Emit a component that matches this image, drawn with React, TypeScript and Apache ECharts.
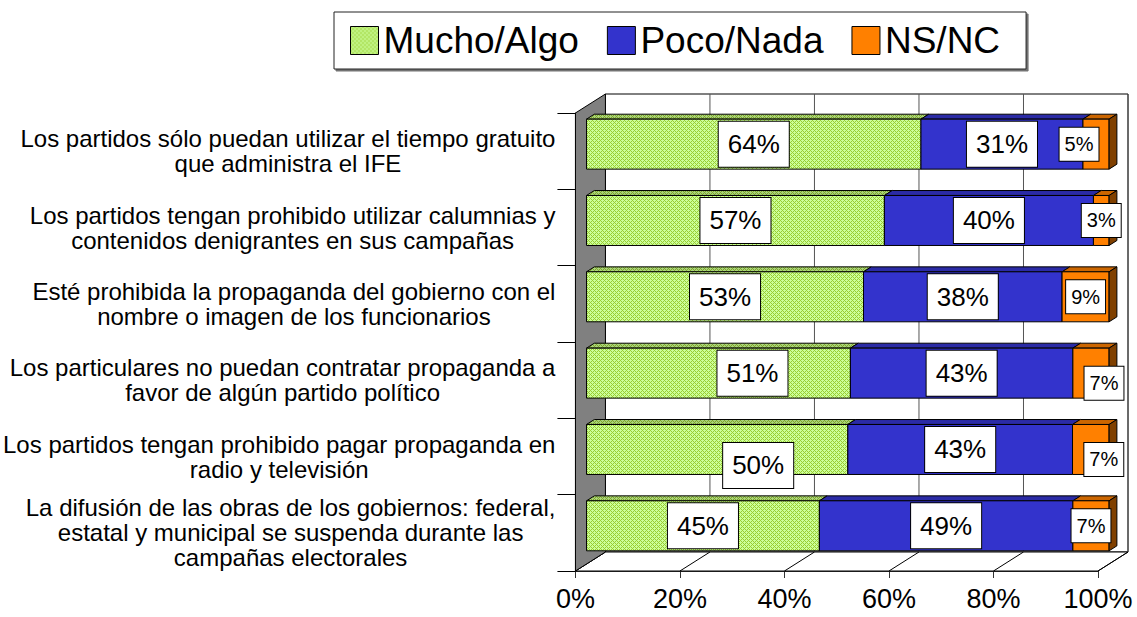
import React, { useEffect, useRef } from 'react';
import * as echarts from 'echarts';

// ---------- data ----------
const CATEGORIES = [
  'Los partidos sólo puedan utilizar el tiempo gratuito\nque administra el IFE',
  'Los partidos tengan prohibido utilizar calumnias y\ncontenidos denigrantes en sus campañas',
  'Esté prohibida la propaganda del gobierno con el\nnombre o imagen de los funcionarios',
  'Los particulares no puedan contratar propaganda a\nfavor de algún partido político',
  'Los partidos tengan prohibido pagar propaganda en\nradio y televisión',
  'La difusión de las obras de los gobiernos: federal,\nestatal y municipal se suspenda durante las\ncampañas electorales',
];
const SERIES_NAMES = ['Mucho/Algo', 'Poco/Nada', 'NS/NC'];
const MUCHO_ALGO = [64, 57, 53, 51, 50, 45];
const POCO_NADA = [31, 40, 38, 43, 43, 49];
const NS_NC = [5, 3, 9, 7, 7, 7];
const X_TICKS = [0, 20, 40, 60, 80, 100];

// ---------- styling ----------
const FONT = '"Liberation Sans", Arial, Helvetica, sans-serif';
const DEPTH: [number, number] = [30, -19]; // 3D depth offset of the walls
const BAR_FRONT = 0.37; // bar front face position along the depth
const BAR_BACK = 0.63; // bar back face position along the depth
const BAR_RATIO = 0.655; // bar thickness / band
// manual label nudges, as in the original (key: category-series)
const LABEL_NUDGE: Record<string, [number, number]> = {
  '0-2': [-17, 0],
  '3-0': [34, 0],
  '3-2': [13, 10],
  '4-0': [41, 16],
  '4-2': [13, 10],
};

function makePattern(dark: string, light: string): any {
  const c = document.createElement('canvas');
  c.width = 4;
  c.height = 4;
  const ctx = c.getContext('2d');
  if (!ctx) return light;
  ctx.fillStyle = light;
  ctx.fillRect(0, 0, 4, 4);
  ctx.fillStyle = dark;
  for (let x = 0; x < 4; x++) {
    for (let y = 0; y < 4; y++) {
      if ((x + y) % 4 === 0 || (x - y + 4) % 4 === 0) ctx.fillRect(x, y, 1, 1);
    }
  }
  return { image: c.toDataURL(), repeat: 'repeat', imageWidth: 4, imageHeight: 4 };
}

function buildOption() {
  const greenFront = makePattern('#99CC33', '#CCFF99');
  const greenTop = makePattern('#7FA52B', '#A9D47A');
  const faces = [
    { front: greenFront, top: greenTop, side: '#6E9A2E' },
    { front: '#3333CC', top: '#2B2BA6', side: '#1E1E80' },
    { front: '#FF8000', top: '#CC6600', side: '#804000' },
  ];
  const values = [MUCHO_ALGO, POCO_NADA, NS_NC];

  // 100%-stacked segments: [start, end, category, label value]
  const seriesData = values.map((arr, s) =>
    arr.map((v, i) => {
      const total = MUCHO_ALGO[i] + POCO_NADA[i] + NS_NC[i];
      let before = 0;
      for (let k = 0; k < s; k++) before += values[k][i];
      return [(before / total) * 100, ((before + v) / total) * 100, i, v];
    })
  );

  const renderFrame = (params: any, api: any) => {
    const cs = params.coordSys;
    const x0 = cs.x, y0 = cs.y, x1 = cs.x + cs.width, y1 = cs.y + cs.height;
    const [dx, dy] = DEPTH;
    const children: any[] = [];
    children.push({
      type: 'rect',
      shape: { x: x0 + dx, y: y0 + dy, width: x1 - x0, height: y1 - y0 },
      style: { fill: '#fff', stroke: '#000', lineWidth: 1 },
    });
    children.push({
      type: 'polygon',
      shape: { points: [[x0, y1], [x0 + dx, y1 + dy], [x1 + dx, y1 + dy], [x1, y1]] },
      style: { fill: '#fff', stroke: '#000', lineWidth: 1 },
    });
    X_TICKS.forEach((t) => {
      const x = api.coord([t, 0])[0];
      children.push({
        type: 'line',
        shape: { x1: x + dx, y1: y0 + dy, x2: x + dx, y2: y1 + dy },
        style: { stroke: '#555', lineWidth: 1 },
      });
      children.push({
        type: 'line',
        shape: { x1: x, y1: y1, x2: x + dx, y2: y1 + dy },
        style: { stroke: '#000', lineWidth: 1 },
      });
    });
    children.push({
      type: 'polygon',
      shape: { points: [[x0, y0], [x0 + dx, y0 + dy], [x0 + dx, y1 + dy], [x0, y1]] },
      style: { fill: '#808080', stroke: '#000', lineWidth: 1 },
    });
    return { type: 'group', children };
  };

  const makeBarRender = (sIdx: number) => (params: any, api: any) => {
    const s = api.value(0), e = api.value(1), c = api.value(2), v = api.value(3);
    const p0 = api.coord([s, c]);
    const p1 = api.coord([e, c]);
    const band = api.size([0, 1])[1];
    const h = band * BAR_RATIO;
    const fx = DEPTH[0] * BAR_FRONT, fy = DEPTH[1] * BAR_FRONT;
    const ddx = DEPTH[0] * (BAR_BACK - BAR_FRONT), ddy = DEPTH[1] * (BAR_BACK - BAR_FRONT);
    const xs = p0[0] + fx, xe = p1[0] + fx;
    const yt = p0[1] - h / 2 + fy, yb = yt + h;
    const f = faces[sIdx];
    const children: any[] = [
      {
        type: 'polygon',
        shape: { points: [[xs, yt], [xe, yt], [xe + ddx, yt + ddy], [xs + ddx, yt + ddy]] },
        style: { fill: f.top, stroke: '#000', lineWidth: 1 },
      },
      {
        type: 'rect',
        shape: { x: xs, y: yt, width: xe - xs, height: h },
        style: { fill: f.front, stroke: '#000', lineWidth: 1 },
      },
    ];
    if (sIdx === values.length - 1) {
      children.push({
        type: 'polygon',
        shape: { points: [[xe, yt], [xe + ddx, yt + ddy], [xe + ddx, yb + ddy], [xe, yb]] },
        style: { fill: f.side, stroke: '#000', lineWidth: 1 },
      });
    }
    const nudge = LABEL_NUDGE[`${c}-${sIdx}`] || [0, 0];
    const small = sIdx === 2;
    children.push({
      type: 'text',
      x: (xs + xe) / 2 + nudge[0],
      y: (yt + yb) / 2 + nudge[1],
      z2: 50,
      style: {
        text: `${v}%`,
        fill: '#000',
        fontSize: small ? 20 : 26,
        fontFamily: FONT,
        align: 'center',
        verticalAlign: 'middle',
        backgroundColor: '#fff',
        borderColor: '#000',
        borderWidth: 1,
        padding: small ? [7, 5, 6, 5] : [10, 9, 9, 9],
      },
    });
    return { type: 'group', children };
  };

  const series: any[] = [
    {
      type: 'custom',
      name: 'frame',
      z: 1,
      clip: false,
      silent: true,
      data: [[0, 0]],
      encode: { x: 0, y: 1 },
      renderItem: renderFrame,
    },
  ];
  SERIES_NAMES.forEach((name, sIdx) => {
    series.push({
      type: 'custom',
      name,
      z: 2,
      clip: false,
      itemStyle: { color: faces[sIdx].front },
      data: seriesData[sIdx],
      encode: { x: [0, 1], y: 2 },
      renderItem: makeBarRender(sIdx),
    });
  });

  return {
    animation: false,
    backgroundColor: '#fff',
    textStyle: { fontFamily: FONT },
    legend: {
      data: SERIES_NAMES,
      left: 334,
      top: 12,
      icon: 'rect',
      itemWidth: 28,
      itemHeight: 28,
      itemGap: 28,
      padding: [10, 26, 10, 16],
      borderColor: '#222',
      borderWidth: 1,
      backgroundColor: '#fff',
      shadowColor: 'rgba(0,0,0,0.55)',
      shadowBlur: 1,
      shadowOffsetX: 2,
      shadowOffsetY: 2,
      selectedMode: false,
      itemStyle: { borderColor: '#000', borderWidth: 1 },
      textStyle: { fontSize: 37, color: '#000', fontFamily: FONT },
    },
    grid: { left: 573, top: 113, width: 525, height: 458, containLabel: false },
    xAxis: {
      type: 'value',
      min: 0,
      max: 100,
      interval: 20,
      axisLine: { show: true, lineStyle: { color: '#333', width: 1 } },
      axisTick: { show: true, length: 7, lineStyle: { color: '#333' } },
      axisLabel: { formatter: '{value}%', fontSize: 27, color: '#000', margin: 14, fontFamily: FONT },
      splitLine: { show: false },
    },
    yAxis: {
      type: 'category',
      data: CATEGORIES,
      inverse: true,
      axisLine: { show: true, lineStyle: { color: '#000' } },
      axisTick: { show: true, length: 18, lineStyle: { color: '#000' } },
      axisLabel: {
        interval: 0,
        margin: 20,
        align: 'right',
        formatter: (val: string) =>
          val
            .split('\n')
            .map((l) => `{c|${l}}`)
            .join('\n'),
        rich: {
          c: { align: 'center', fontSize: 24, lineHeight: 25, color: '#000', fontFamily: FONT },
        },
      },
      splitLine: { show: false },
    },
    series,
  };
}

export default function App() {
  const ref = useRef<HTMLDivElement>(null);
  useEffect(() => {
    if (!ref.current) return;
    const chart = echarts.init(ref.current, null, { renderer: 'svg' });
    chart.setOption(buildOption() as any);
    return () => chart.dispose();
  }, []);
  return (
    <div
      ref={ref}
      style={{ position: 'fixed', left: 0, top: 0, width: 1137, height: 617, background: '#fff' }}
    />
  );
}
